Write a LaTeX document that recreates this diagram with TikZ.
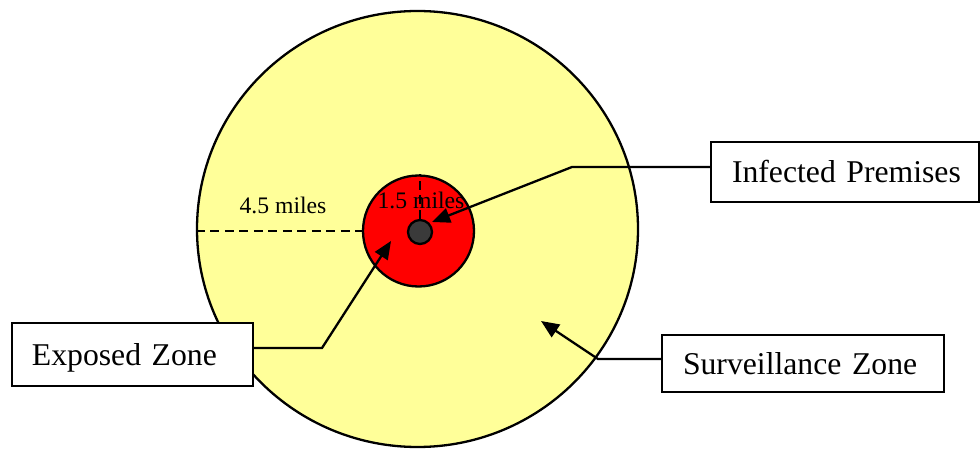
\documentclass[tikz,border=0pt]{standalone}
\usepackage{fontspec}
\setmainfont{Liberation Serif}
\usetikzlibrary{arrows.meta,shapes.geometric}
\definecolor{zoneyellow}{HTML}{FFFF99}
\definecolor{zonered}{HTML}{FF0000}
\definecolor{premdark}{HTML}{3A3A3A}
\tikzset{
  labelbox/.style={draw=black, line width=2.3pt, fill=white, rectangle,
    minimum height=#1, inner sep=0pt, align=left,
    font=\fontsize{31.7}{38}\selectfont, text height=21pt, text depth=0pt},
  mileslabel/.style={inner sep=0pt, font=\fontsize{23.7}{28}\selectfont,
    text height=15.7pt, text depth=0pt},
  radius line/.style={line width=2.5pt, dash pattern=on 9pt off 5.5pt},
  pointer/.style={line width=2.3pt, -{Triangle[length=18pt,width=15pt]}},
  zone/.style={draw=black, line width=2.3pt, inner sep=0pt}
}
\begin{document}
\begin{tikzpicture}[x=1pt,y=-1pt]
\useasboundingbox (0,0) rectangle (980,449);
% zones
\node[zone, ellipse, fill=zoneyellow, minimum width=441pt, minimum height=436pt] (SZc) at (417.5,229) {};
\node[zone, circle, fill=zonered, minimum size=111pt] (EZc) at (418.5,231) {};
% radius lines
\draw[radius line] (SZc.west |- EZc.center) -- (EZc.west);
\node[zone, circle, fill=premdark, minimum size=24pt] (IPc) at (420,232) {};
\draw[radius line] (IPc.north) -- (IPc.north |- EZc.north);
% radius labels
\node[mileslabel] (m45) at (283,205.5) {4.5 miles};
\node[mileslabel] (m15) at (421,200.5) {1.5 miles};
% label boxes
\node[labelbox=60pt, text width=268pt] (IP) at (845,172) {\hspace*{21pt}Infected Premises};
\node[labelbox=63pt, text width=241pt] (EZ) at (132.5,354.5) {\hspace*{20pt}Exposed Zone};
\node[labelbox=57pt, text width=282pt] (SZ) at (803,363.5) {\hspace*{21pt}Surveillance Zone};
% connector coordinates
\coordinate (ipc) at (572,167);
\coordinate (iptip) at (432,222);
\coordinate (ezc) at (322,348);
\coordinate (eztip) at (391,241);
\coordinate (szc) at (598,359);
\coordinate (sztip) at (541,321);
% connectors
\draw[pointer] (IP.west |- ipc) -- (ipc) -- (iptip);
\draw[pointer] (EZ.east |- ezc) -- (ezc) -- (eztip);
\draw[pointer] (SZ.west |- szc) -- (szc) -- (sztip);
\end{tikzpicture}
\end{document}
